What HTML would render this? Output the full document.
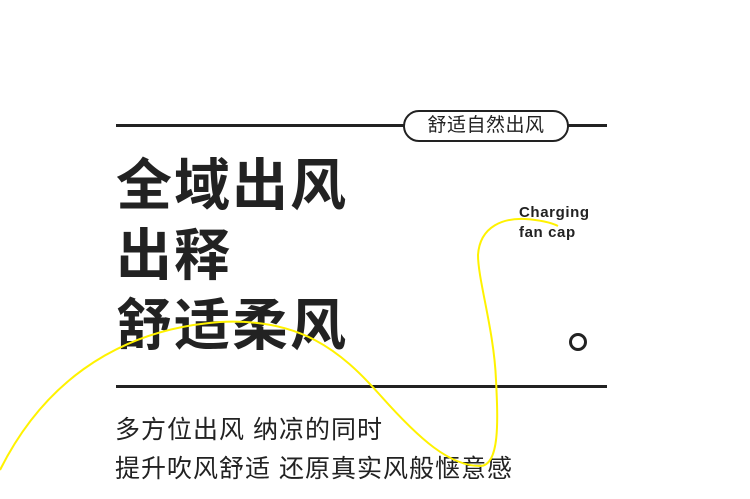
<!DOCTYPE html>
<html><head><meta charset="utf-8"><style>
body{margin:0;width:750px;height:499px;background:#fff;position:relative;overflow:hidden;font-family:"Liberation Sans","Noto Sans CJK SC",sans-serif;color:#222}
.a{position:absolute}
.big{font-size:56px;font-weight:bold;line-height:1;left:116px;letter-spacing:2px}
.sm{font-size:25px;left:115px;line-height:1;letter-spacing:1px}
</style></head><body>
<div class="a" style="left:116px;top:124px;width:491px;height:3px;background:#222"></div>
<div class="a" style="left:403px;top:110px;width:162px;height:28px;border:2px solid #222;border-radius:16px;background:#fff;font-size:19px;line-height:28px;text-align:center;letter-spacing:0.5px">舒适自然出风</div>
<div class="a big" style="top:158px">全域出风</div>
<div class="a big" style="top:228px">出释</div>
<div class="a big" style="top:298px">舒适柔风</div>
<div class="a" style="left:519px;top:203px;font-size:15px;font-weight:bold;line-height:20px;letter-spacing:0.6px">Charging<br>fan cap</div>
<div class="a" style="left:569px;top:333px;width:12px;height:12px;border:3px solid #222;border-radius:50%"></div>
<div class="a" style="left:116px;top:385px;width:491px;height:3px;background:#222"></div>
<div class="a sm" style="top:418px">多方位出风 纳凉的同时</div>
<div class="a sm" style="top:457px">提升吹风舒适 还原真实风般惬意感</div>
<svg class="a" style="left:0;top:0" width="750" height="499"><path d="M0,470 C40,390 110,330 220,322 C300,318 340,350 380,395 C420,440 450,466 480,466 C500,466 498,420 496,380 C494,330 478,280 478,255 C480,225 505,218 525,219 C540,220 550,222 558,226" fill="none" stroke="#fff200" stroke-width="2"/></svg>
</body></html>
